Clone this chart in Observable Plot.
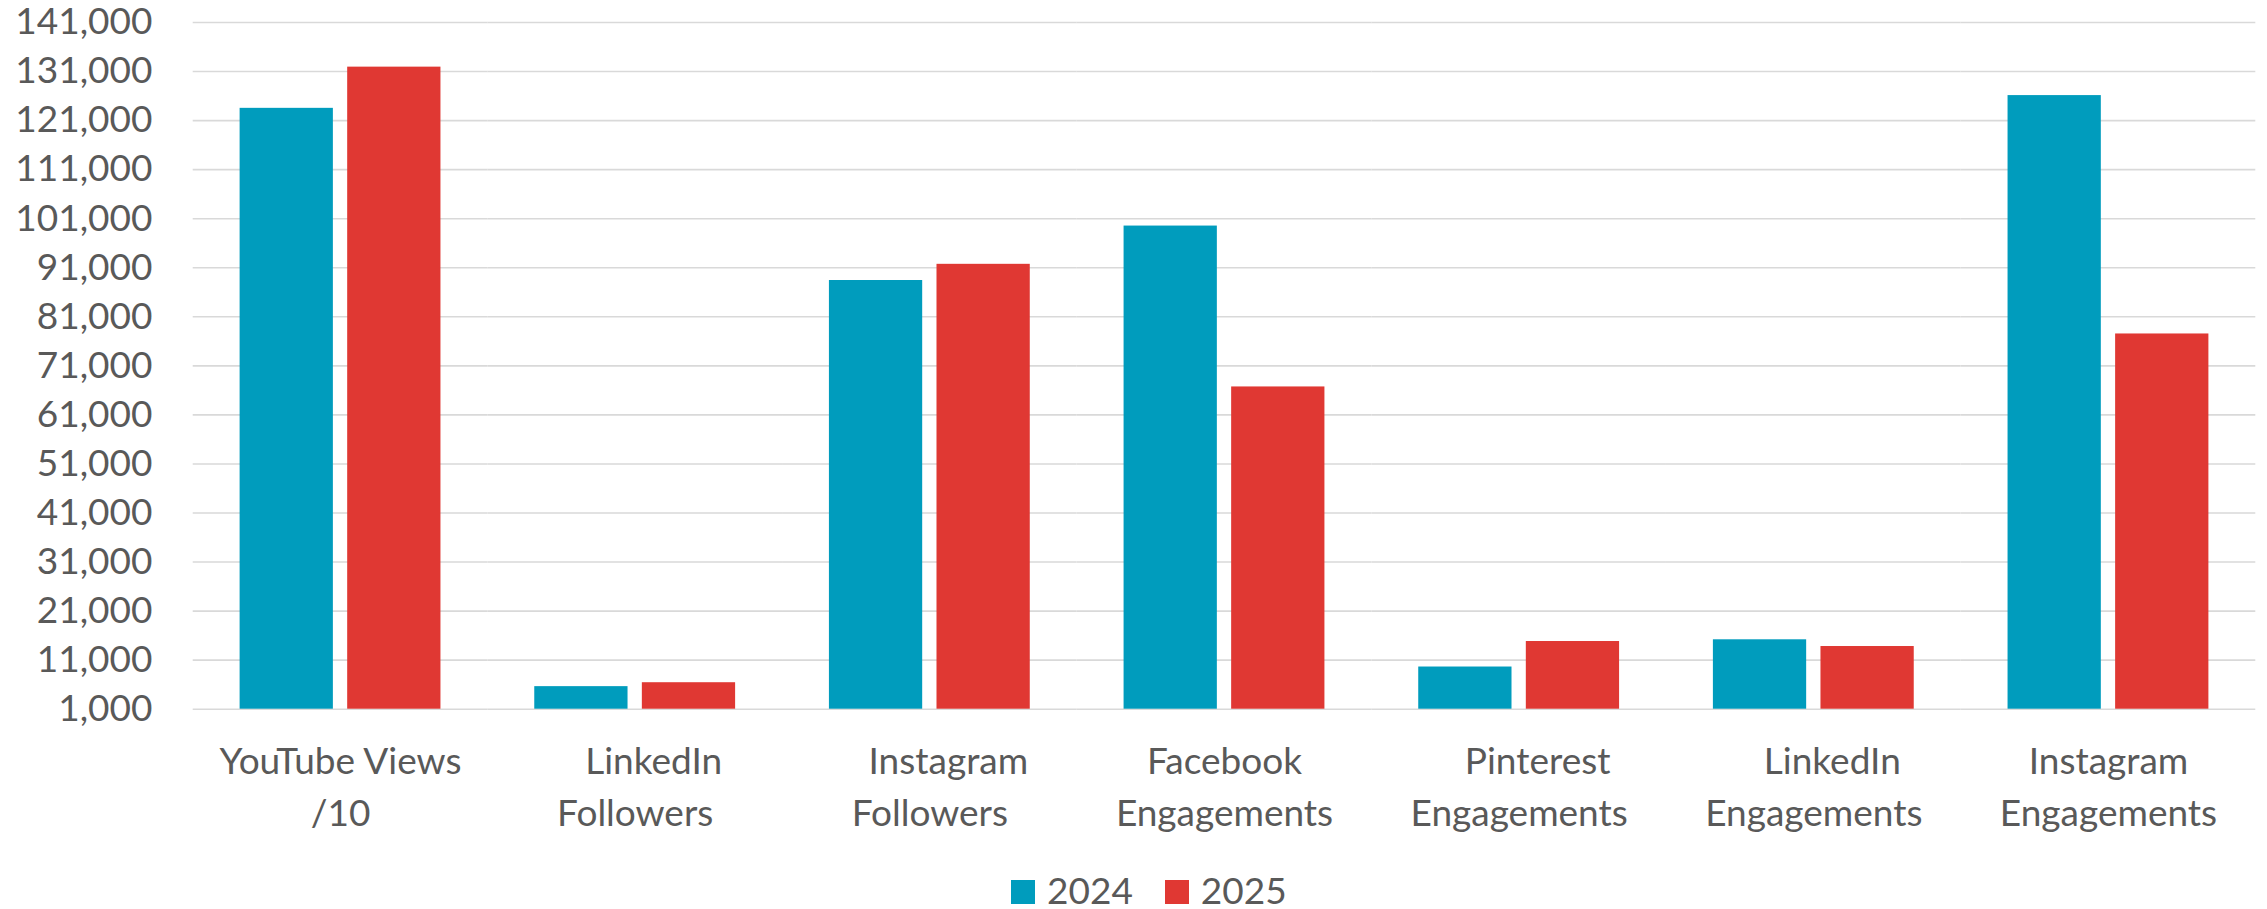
<!DOCTYPE html>
<html>
<head>
<meta charset="utf-8">
<script src="https://cdn.jsdelivr.net/npm/d3@7"></script>
<script src="https://cdn.jsdelivr.net/npm/@observablehq/plot@0.6"></script>
<style>
  body { margin: 0; background: #ffffff; }
  #wrap { position: relative; width: 2267px; height: 909px; font-family: Lato, sans-serif; }
  #wrap svg { display: block; overflow: visible; }
  #legend { position: absolute; left: 1011px; top: 870.7px; font: 37px/37px Lato, sans-serif; color: #595959; white-space: nowrap; }
  #legend .sw { display: inline-block; width: 24px; height: 24px; margin-right: 12px; }
  #legend .item { display: inline-block; margin-right: 32px; }
</style>
</head>
<body>
<div id="wrap"></div>
<script>
// ---- data ----
const categories = [
  "YouTube Views\n/10",
  "\u2002\u2002LinkedIn\nFollowers",
  "\u2002\u2002Instagram\nFollowers",
  "Facebook\nEngagements",
  "\u2002\u2002Pinterest\nEngagements",
  "\u2002\u2002LinkedIn\nEngagements",
  "Instagram\nEngagements"
];
const years = ["2024", "2025"];
const values2024 = [123500, 5600, 88400, 99500, 9600, 15150, 126100];
const values2025 = [131900, 6400, 91700, 66700, 14800, 13780, 77500];
const yTicks = [1000, 11000, 21000, 31000, 41000, 51000, 61000, 71000, 81000, 91000, 101000, 111000, 121000, 131000, 141000];
const colors = ["#009CBD", "#E03833"];

const rows = [];
categories.forEach((c, i) => {
  rows.push({category: c, year: years[0], value: values2024[i]});
  rows.push({category: c, year: years[1], value: values2025[i]});
});

const H = 868;
const chart = Plot.plot({
  width: 2267,
  height: H,
  marginLeft: 192.7,
  marginRight: 11.7,
  marginTop: 22,
  marginBottom: H - 708.7,
  style: {fontFamily: "Lato, sans-serif", fontSize: "37px", color: "#595959", background: "#ffffff"},
  fx: {domain: categories, padding: 0, round: false},
  x: {domain: years, paddingInner: 0.133, paddingOuter: 0.436, round: false, axis: null},
  y: {domain: [yTicks[0], yTicks[yTicks.length - 1]]},
  color: {domain: years, range: colors},
  marks: [
    Plot.gridY(yTicks, {stroke: "#d9d9d9", strokeOpacity: 1, strokeWidth: 1.6}),
    Plot.axisY(yTicks, {tickSize: 0, tickPadding: 40.7, tickFormat: d3.format(","), fontSize: 37, label: null}),
    Plot.axisFx({anchor: "bottom", tickSize: 0, tickPadding: 29, fontSize: 37, lineHeight: 1.38, label: null}),
    Plot.barY(rows, {fx: "category", x: "year", y1: yTicks[0], y2: "value", fill: "year"})
  ]
});

const wrap = document.getElementById("wrap");
wrap.appendChild(chart);

const legend = document.createElement("div");
legend.id = "legend";
years.forEach((y, i) => {
  const item = document.createElement("span");
  item.className = "item";
  const sw = document.createElement("span");
  sw.className = "sw";
  sw.style.background = colors[i];
  item.appendChild(sw);
  item.appendChild(document.createTextNode(y));
  legend.appendChild(item);
});
wrap.appendChild(legend);
</script>
</body>
</html>
